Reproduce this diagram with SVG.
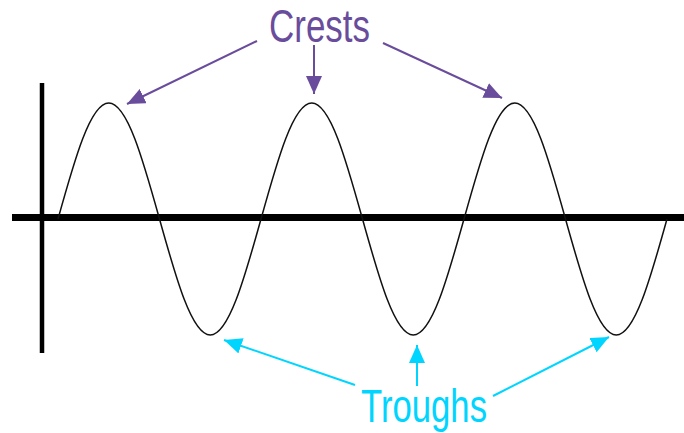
<svg xmlns="http://www.w3.org/2000/svg" width="684" height="433" viewBox="0 0 684 433">
  <style>
    .lbl { font-family: "Liberation Sans", Arial, sans-serif; font-size: 46px; }
    .axis { stroke: #000; fill: none; }
    .wave { stroke: #111; stroke-width: 1.5; fill: none; }
    .crest-arrow { stroke: #6a4c9c; stroke-width: 2; fill: none; marker-end: url(#headPurple); }
    .trough-arrow { stroke: #00d5ff; stroke-width: 2; fill: none; marker-end: url(#headCyan); }
  </style>
  <defs>
    <marker id="headPurple" viewBox="0 0 18 16" refX="18" refY="8" markerWidth="18" markerHeight="16" markerUnits="userSpaceOnUse" orient="auto">
      <path d="M0,0 L18,8 L0,16 z" fill="#6a4c9c"/>
    </marker>
    <marker id="headCyan" viewBox="0 0 18 16" refX="18" refY="8" markerWidth="18" markerHeight="16" markerUnits="userSpaceOnUse" orient="auto">
      <path d="M0,0 L18,8 L0,16 z" fill="#00d5ff"/>
    </marker>
  </defs>
  <rect width="684" height="433" fill="#fff"/>

  <g id="axes">
    <line class="axis" x1="42" y1="83" x2="42" y2="353" stroke-width="4.5"/>
    <line class="axis" x1="12" y1="217.5" x2="684" y2="217.5" stroke-width="7"/>
  </g>

  <g id="wave">
    <path class="wave" d="M58,219
      c16.55,-59.43 32.38,-116 50.75,-116 c18.37,0 34.2,56.57 50.75,116
      c16.55,59.43 32.38,116 50.75,116 c18.37,0 34.2,-56.57 50.75,-116
      c16.55,-59.43 32.38,-116 50.75,-116 c18.37,0 34.2,56.57 50.75,116
      c16.55,59.43 32.38,116 50.75,116 c18.37,0 34.2,-56.57 50.75,-116
      c16.55,-59.43 32.38,-116 50.75,-116 c18.37,0 34.2,56.57 50.75,116
      c16.55,59.43 32.38,116 50.75,116 c18.37,0 34.2,-56.57 50.75,-116"/>
  </g>

  <g id="crests-label">
    <text class="lbl" x="269" y="42" fill="#6a4c9c" textLength="101" lengthAdjust="spacingAndGlyphs">Crests</text>
  </g>

  <g id="troughs-label">
    <text class="lbl" x="361" y="422" fill="#00d5ff" textLength="126" lengthAdjust="spacingAndGlyphs">Troughs</text>
  </g>

  <g id="connectors">
    <line class="crest-arrow" x1="257" y1="41" x2="127" y2="104"/>
    <line class="crest-arrow" x1="314" y1="45" x2="314" y2="94"/>
    <line class="crest-arrow" x1="383" y1="43" x2="502" y2="98"/>
    <line class="trough-arrow" x1="355" y1="385" x2="224" y2="340"/>
    <line class="trough-arrow" x1="417" y1="386" x2="417" y2="345"/>
    <line class="trough-arrow" x1="493" y1="396" x2="609" y2="337"/>
  </g>
</svg>
